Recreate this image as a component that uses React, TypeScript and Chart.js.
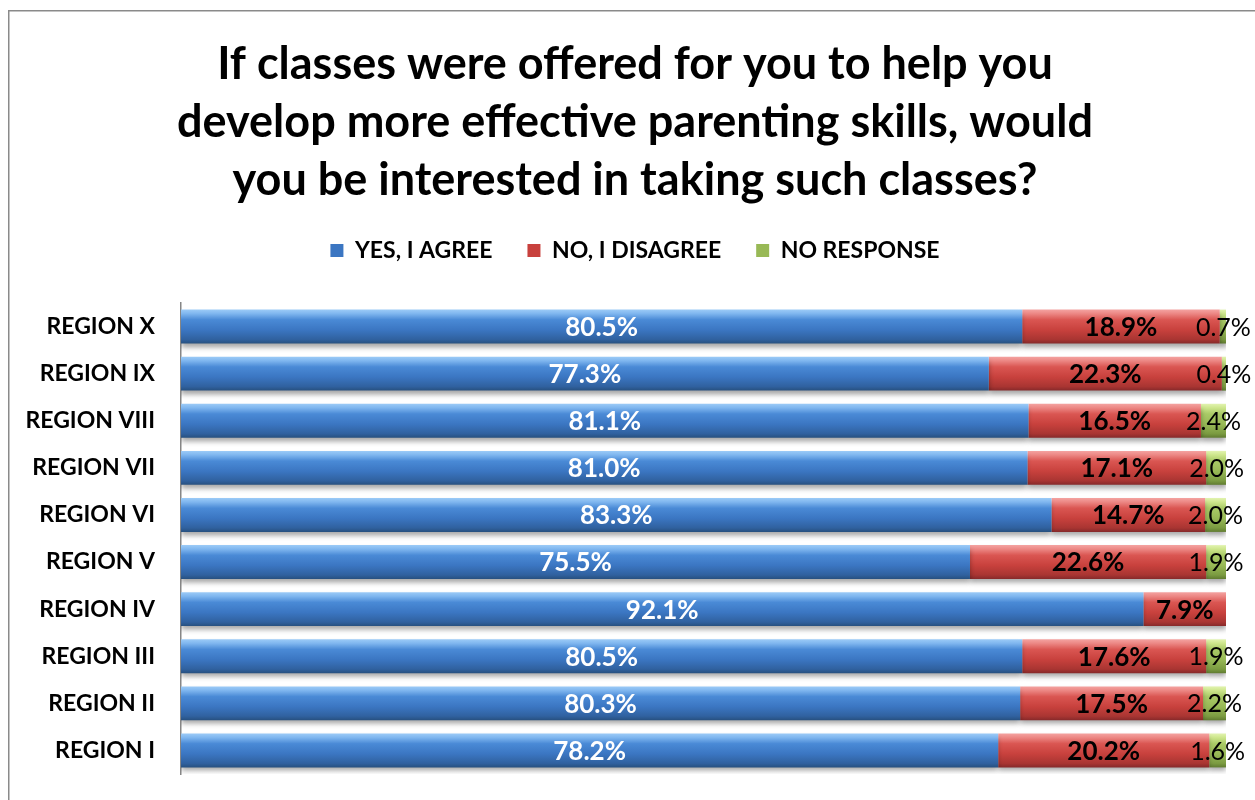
import React, { useEffect, useRef } from "react";
import { Chart, registerables } from "chart.js";

Chart.register(...registerables);

const titleLines = [
  "If classes were offered for you to help you",
  "develop more effective parenting skills, would",
  "you be interested in taking such classes?",
];

const categories = [
  "REGION X",
  "REGION IX",
  "REGION VIII",
  "REGION VII",
  "REGION VI",
  "REGION V",
  "REGION IV",
  "REGION III",
  "REGION II",
  "REGION I",
];

const seriesNames = ["YES, I AGREE", "NO, I DISAGREE", "NO RESPONSE"];

const yesValues = [80.5, 77.3, 81.1, 81.0, 83.3, 75.5, 92.1, 80.5, 80.3, 78.2];
const noValues = [18.9, 22.3, 16.5, 17.1, 14.7, 22.6, 7.9, 17.6, 17.5, 20.2];
const noResponseValues = [0.7, 0.4, 2.4, 2.0, 2.0, 1.9, 0, 1.9, 2.2, 1.6];

const FONT = "Lato";
const BAR_FRACTION = 0.72;

const blueStops: [number, string][] = [
  [0, "#9ccbf7"],
  [0.12, "#7fb6ef"],
  [0.3, "#4a8ad6"],
  [0.6, "#3b76c2"],
  [0.88, "#30619f"],
  [1, "#27507f"],
];
const redStops: [number, string][] = [
  [0, "#f4a3a1"],
  [0.12, "#ec8784"],
  [0.3, "#da5652"],
  [0.6, "#c8413d"],
  [0.88, "#a93532"],
  [1, "#86292a"],
];
const greenStops: [number, string][] = [
  [0, "#e2f3b0"],
  [0.12, "#cde68c"],
  [0.3, "#a9ca66"],
  [0.6, "#98b956"],
  [0.88, "#7b9b41"],
  [1, "#607b30"],
];

function barGradient(stops: [number, string][]) {
  return (ctx: any) => {
    const chart = ctx.chart;
    const ys = chart.scales && chart.scales.y;
    if (!ys || ctx.dataIndex === undefined || !chart.chartArea) return stops[3][1];
    const c = ys.getPixelForValue(ctx.dataIndex);
    const step = Math.abs(ys.getPixelForValue(1) - ys.getPixelForValue(0));
    const h = step * BAR_FRACTION;
    const g = chart.ctx.createLinearGradient(0, c - h / 2, 0, c + h / 2);
    stops.forEach(([o, col]) => g.addColorStop(o, col));
    return g;
  };
}

const framePlugin = {
  id: "frame",
  beforeDraw(chart: any) {
    const ctx = chart.ctx;
    ctx.save();
    ctx.fillStyle = "#ffffff";
    ctx.fillRect(0, 0, chart.width, chart.height);
    ctx.strokeStyle = "#8a8a8a";
    ctx.lineWidth = 1.5;
    ctx.beginPath();
    ctx.moveTo(8.75, chart.height);
    ctx.lineTo(8.75, 10.75);
    ctx.lineTo(chart.width, 10.75);
    ctx.stroke();
    ctx.restore();
  },
};

// Centre title and legend over the same span as the reference (x 44..1226)
const headerPlugin = {
  id: "headerAlign",
  afterLayout(chart: any) {
    const t = chart.titleBlock;
    if (t) {
      t.left = 44;
      t.top += 5;
      t.bottom += 5;
    }
    const l = chart.legend;
    if (l) {
      l.left = 44;
    }
  },
};

const shadowPlugin = {
  id: "barShadow",
  beforeDatasetsDraw(chart: any) {
    const ctx = chart.ctx;
    ctx.save();
    ctx.shadowColor = "rgba(0,0,0,0.35)";
    ctx.shadowBlur = 5;
    ctx.shadowOffsetX = 0;
    ctx.shadowOffsetY = 4;
  },
  afterDatasetsDraw(chart: any) {
    chart.ctx.restore();
  },
};

const labelPlugin = {
  id: "segmentLabels",
  afterDraw(chart: any) {
    const ctx = chart.ctx;
    ctx.save();
    ctx.textAlign = "center";
    ctx.textBaseline = "middle";
    chart.data.datasets.forEach((ds: any, di: number) => {
      const meta = chart.getDatasetMeta(di);
      meta.data.forEach((el: any, i: number) => {
        const v = ds.data[i];
        if (!v) return;
        const cx = (el.x + el.base) / 2;
        const cy = el.y;
        if (di === 0) {
          ctx.fillStyle = "#ffffff";
          ctx.font = `bold 26px ${FONT}`;
        } else if (di === 1) {
          ctx.fillStyle = "#000000";
          ctx.font = `bold 26px ${FONT}`;
        } else {
          ctx.fillStyle = "#000000";
          ctx.font = `normal 25px ${FONT}`;
        }
        ctx.fillText(v.toFixed(1) + "%", cx, cy + 1);
      });
    });
    ctx.restore();
  },
};

export default function App() {
  const ref = useRef<HTMLCanvasElement | null>(null);

  useEffect(() => {
    if (!ref.current) return;
    const solid = ["#3b76c2", "#c8413d", "#98b956"];
    const chart = new Chart(ref.current, {
      type: "bar",
      data: {
        labels: categories,
        datasets: [
          {
            label: seriesNames[0],
            data: yesValues,
            backgroundColor: barGradient(blueStops),
            borderWidth: 0,
          },
          {
            label: seriesNames[1],
            data: noValues,
            backgroundColor: barGradient(redStops),
            borderWidth: 0,
          },
          {
            label: seriesNames[2],
            data: noResponseValues,
            backgroundColor: barGradient(greenStops),
            borderWidth: 0,
          },
        ],
      },
      options: {
        indexAxis: "y",
        responsive: false,
        animation: false,
        events: [],
        datasets: {
          bar: {
            categoryPercentage: 1,
            barPercentage: BAR_FRACTION,
          },
        },
        layout: {
          padding: { top: 10, left: 10, right: 29, bottom: 26 },
        },
        scales: {
          x: {
            stacked: true,
            position: "top",
            min: 0,
            max: 100,
            display: true,
            ticks: { display: false },
            grid: { display: false },
            border: { display: false },
            afterFit: (scale: any) => {
              scale.height = 31;
            },
          },
          y: {
            stacked: true,
            ticks: {
              color: "#000000",
              font: { family: FONT, size: 23, weight: "bold" },
              padding: 26,
            },
            grid: { display: false, drawTicks: false },
            border: { display: true, color: "#868686", width: 1.5 },
            afterFit: (scale: any) => {
              scale.width = 171;
              scale.paddingTop = 0;
              scale.paddingBottom = 0;
            },
          },
        },
        plugins: {
          title: {
            display: true,
            text: titleLines,
            color: "#000000",
            font: { family: FONT, size: 45, weight: "bold", lineHeight: 58 / 45 },
            padding: { top: 20, bottom: 0 },
          },
          legend: {
            display: true,
            position: "top",
            labels: {
              color: "#000000",
              font: { family: FONT, size: 23, weight: "bold" },
              boxWidth: 13,
              boxHeight: 13,
              padding: 35,
              generateLabels: () =>
                seriesNames.map((name, i) => ({
                  text: name,
                  fillStyle: solid[i],
                  strokeStyle: solid[i],
                  lineWidth: 0,
                  hidden: false,
                  datasetIndex: i,
                  fontColor: "#000000",
                })),
            },
          },
          tooltip: { enabled: false },
        },
      },
      plugins: [framePlugin, headerPlugin, shadowPlugin, labelPlugin],
    } as any);
    return () => chart.destroy();
  }, []);

  return (
    <canvas
      ref={ref}
      width={1255}
      height={800}
      style={{ position: "absolute", left: 0, top: 0, display: "block" }}
    />
  );
}
